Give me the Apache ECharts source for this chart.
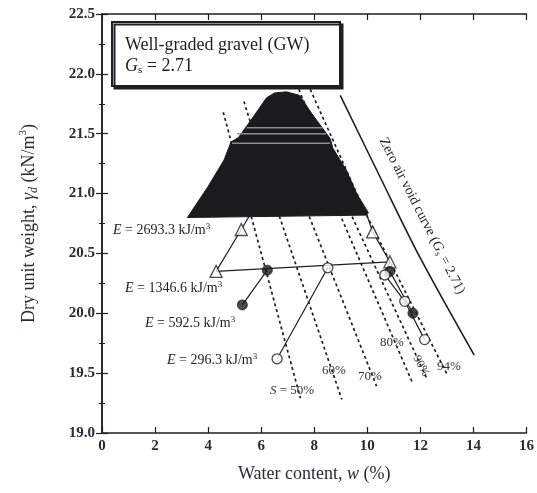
<!DOCTYPE html>
<html><head><meta charset="utf-8">
<script src="https://cdn.jsdelivr.net/npm/echarts@6/dist/echarts.min.js"></script>
<style>html,body{margin:0;padding:0;background:#fff}#c{width:537px;height:493px}</style>
</head><body><div id="c"></div>
<script>
// ---- tick labels ----
const xTickLabels = ['0','2','4','6','8','10','12','14','16'];
const yTickLabels = ['19.0','19.5','20.0','20.5','21.0','21.5','22.0','22.5'];

// ---- compaction data (w %, gamma_d kN/m3) ----
const e2693Points = [[5.25,20.70],[4.3,20.35],[10.2,20.68],[10.85,20.43]];
const e2693Curve  = [[5.6,20.83],[5.25,20.70],[4.3,20.35],[10.85,20.43],[10.2,20.68],[9.97,20.83]];
const e592Points  = [[5.29,20.07],[6.23,20.36],[10.85,20.35],[11.72,20.0]];
const e592CurveLeft  = [[5.29,20.07],[6.23,20.36]];
const e592CurveRight = [[10.85,20.35],[11.72,20.0]];
const e296Points  = [[6.60,19.62],[8.51,20.38],[10.66,20.32],[11.41,20.10],[12.16,19.78]];
const e296CurveLeft  = [[6.60,19.62],[8.51,20.38]];
const e296CurveRight = [[10.85,20.43],[10.66,20.32],[11.41,20.10],[12.16,19.78]];

// ---- saturation lines ----
const s50 = [[4.57,21.68],[5.61,20.82],[7.48,19.29]];
const s60 = [[5.35,21.77],[6.67,20.82],[9.04,19.28]];
const s70 = [[6.39,21.60],[7.79,20.82],[10.35,19.39]];
const s80 = [[7.00,21.85],[8.98,20.82],[11.72,19.41]];
const s90 = [[7.42,21.87],[9.40,20.82],[12.23,19.46]];
const s94 = [[7.85,21.87],[9.97,20.82],[13.03,19.48]];
const zeroAirVoid = [[8.98,21.82],[10.5,21.13],[12.0,20.46],[14.03,19.65]];

// ---- dark blot over the top of the curves ----
const blotOutline = [[3.22,20.80],[4.0,21.06],[4.6,21.28],[4.86,21.43],[5.15,21.47],[5.7,21.64],[6.2,21.80],
  [6.5,21.84],[6.95,21.85],[7.45,21.82],[7.9,21.67],[8.6,21.46],[8.7,21.38],[9.2,21.2],[9.6,21.0],[10.04,20.84],[9.97,20.82]];
const blotStripes = [[5.45,8.3,21.55],[5.1,8.45,21.50],[4.9,8.6,21.42]];

const SERIF = "'Liberation Serif','DejaVu Serif',serif";
const INK = '#1e1e24';

function satSeries(d){
  return {type:'line', data:d, symbol:'none', z:2, silent:true,
    lineStyle:{color:INK, width:1.7, type:[3,3]}};
}
function curve(d){
  return {type:'line', data:d, symbol:'none', z:3, silent:true, lineStyle:{color:INK, width:1.2}};
}

const chart = echarts.init(document.getElementById('c'));
const axisCommon = {
  axisLine:{show:true, lineStyle:{color:INK, width:1.5}},
  axisTick:{show:true, inside:true, length:6, lineStyle:{color:INK, width:1.2}},
  splitLine:{show:false}
};
chart.setOption({
  animation:false,
  backgroundColor:'#fff',
  grid:{left:102, top:14, width:427, height:419, show:false},
  xAxis:[
    Object.assign({type:'value', min:0, max:16, interval:2, position:'bottom',
      axisLabel:{fontSize:15, fontFamily:SERIF, color:'#2a2a38', margin:6, fontWeight:'bold',
        formatter:v=>xTickLabels[Math.round(v/2)]},
      name:'Water content, {i|w} (%)', nameLocation:'middle', nameGap:32,
      nameTextStyle:{fontSize:18, fontFamily:SERIF, color:'#2a2a38',
        rich:{i:{fontStyle:'italic', fontSize:18, fontFamily:SERIF, color:'#2a2a38'}}}
    }, axisCommon),
    Object.assign({type:'value', min:0, max:16, interval:2, position:'top', axisLabel:{show:false}}, axisCommon)
  ],
  yAxis:[
    Object.assign({type:'value', min:19, max:22.5, interval:0.5, position:'left',
      minorTick:{show:true, splitNumber:2, length:3, lineStyle:{color:INK, width:1}},
      axisLabel:{fontSize:15, fontFamily:SERIF, color:'#2a2a38', margin:7, fontWeight:'bold',
        formatter:v=>yTickLabels[Math.round((v-19)/0.5)]},
      name:'Dry unit weight, {g|γ}{d|d} (kN/m{u|3})', nameLocation:'middle', nameGap:62, nameRotate:90,
      nameTextStyle:{fontSize:18, fontFamily:SERIF, color:'#2a2a38', lineHeight:22,
        rich:{g:{fontStyle:'italic', fontSize:18, fontFamily:SERIF, color:'#2a2a38'},
              d:{fontStyle:'italic', fontSize:12, fontFamily:SERIF, color:'#2a2a38', verticalAlign:'bottom', lineHeight:22},
              u:{fontSize:11, fontFamily:SERIF, color:'#2a2a38', verticalAlign:'top', lineHeight:22}}}
    }, axisCommon),
    Object.assign({type:'value', min:19, max:22.5, interval:0.5, position:'right',
      minorTick:{show:true, splitNumber:2, length:3, lineStyle:{color:INK, width:1}},
      axisLabel:{show:false}}, axisCommon)
  ],
  series:[
    satSeries(s50), satSeries(s60), satSeries(s70), satSeries(s80), satSeries(s90), satSeries(s94),
    {type:'line', data:zeroAirVoid, symbol:'none', smooth:0.3, z:3, lineStyle:{color:INK, width:1.6}},
    curve(e2693Curve), curve(e592CurveLeft), curve(e592CurveRight), curve(e296CurveLeft), curve(e296CurveRight),
    {type:'custom', z:6, data:blotOutline, encode:{x:0,y:1}, silent:true,
      renderItem:(params, api)=>{
        if (params.dataIndex !== 0) return null;
        return {type:'polygon', shape:{points:blotOutline.map(p=>api.coord(p))},
          style:{fill:'#1b1b1d', stroke:'#1b1b1d', lineWidth:1}};
      }},
    {type:'custom', z:7, data:blotStripes, encode:{x:[0,1], y:2}, silent:true,
      renderItem:(params, api)=>{
        const a = api.coord([api.value(0), api.value(2)]);
        const b = api.coord([api.value(1), api.value(2)]);
        return {type:'line', shape:{x1:a[0],y1:a[1],x2:b[0],y2:b[1]},
          style:{stroke:'#8c8c90', lineWidth:1.5}};
      }},
    {type:'scatter', data:e2693Points, symbol:'triangle', symbolSize:12, z:8,
      itemStyle:{color:'#fff', borderColor:INK, borderWidth:1.3}},
    {type:'scatter', data:e592Points, symbol:'circle', symbolSize:10, z:8,
      itemStyle:{color:'#1b1b1d', borderColor:INK, borderWidth:1}},
    {type:'scatter', data:e296Points, symbol:'circle', symbolSize:10, z:8,
      itemStyle:{color:'#fff', borderColor:INK, borderWidth:1.3}}
  ],
  graphic:[
    {type:'rect', z:20, shape:{x:112, y:22, width:228, height:64},
      style:{fill:'#fff', stroke:INK, lineWidth:2, shadowColor:INK, shadowOffsetX:2.5, shadowOffsetY:2.5, shadowBlur:0}},
    {type:'text', z:21, x:125, y:45, style:{text:'Well-graded gravel (GW)', fontSize:18, fontFamily:SERIF, fill:INK, textVerticalAlign:'middle'}},
    {type:'text', z:21, x:125, y:66, style:{text:'{i|G}{s|s} = 2.71', fontSize:18, fontFamily:SERIF, fill:INK, textVerticalAlign:'middle',
      rich:{i:{fontStyle:'italic', fontSize:18, fontFamily:SERIF, lineHeight:20},
            s:{fontSize:11, fontFamily:SERIF, verticalAlign:'bottom', lineHeight:20}}}},
    ...[
      ['{i|E} = 2693.3 kJ/m{u|3}',113,230],
      ['{i|E} = 1346.6 kJ/m{u|3}',125,288],
      ['{i|E} = 592.5 kJ/m{u|3}',145,323],
      ['{i|E} = 296.3 kJ/m{u|3}',167,360]
    ].map(t=>({type:'text', z:21, x:t[1], y:t[2], style:{text:t[0], fontSize:14, fontFamily:SERIF, fill:INK, textVerticalAlign:'middle',
      rich:{i:{fontStyle:'italic', fontSize:14, fontFamily:SERIF, lineHeight:16},
            u:{fontSize:9, fontFamily:SERIF, verticalAlign:'top', lineHeight:16}}}})),
    ...[
      ['{i|S} = 50%',270,391],['60%',322,371],['70%',358,377],['80%',380,343],['94%',437,367]
    ].map(t=>({type:'text', z:21, x:t[1], y:t[2], style:{text:t[0], fontSize:13, fontFamily:SERIF, fill:'#33333f', textVerticalAlign:'middle',
      rich:{i:{fontStyle:'italic', fontSize:13, fontFamily:SERIF}}}})),
    {type:'text', z:21, x:421, y:366, rotation:-62*Math.PI/180,
      style:{text:'90%', fontSize:12, fontFamily:SERIF, fill:'#33333f', textAlign:'center', textVerticalAlign:'middle'}},
    {type:'text', z:21, x:422, y:216, rotation:-63*Math.PI/180,
      style:{text:'Zero air void curve ({i|G}{s|s} = 2.71)', fontSize:14, fontFamily:SERIF, fill:INK, textAlign:'center', textVerticalAlign:'middle',
        rich:{i:{fontStyle:'italic', fontSize:14, fontFamily:SERIF, lineHeight:16},
              s:{fontSize:9, fontFamily:SERIF, verticalAlign:'bottom', lineHeight:16}}}}
  ]
});
</script></body></html>
